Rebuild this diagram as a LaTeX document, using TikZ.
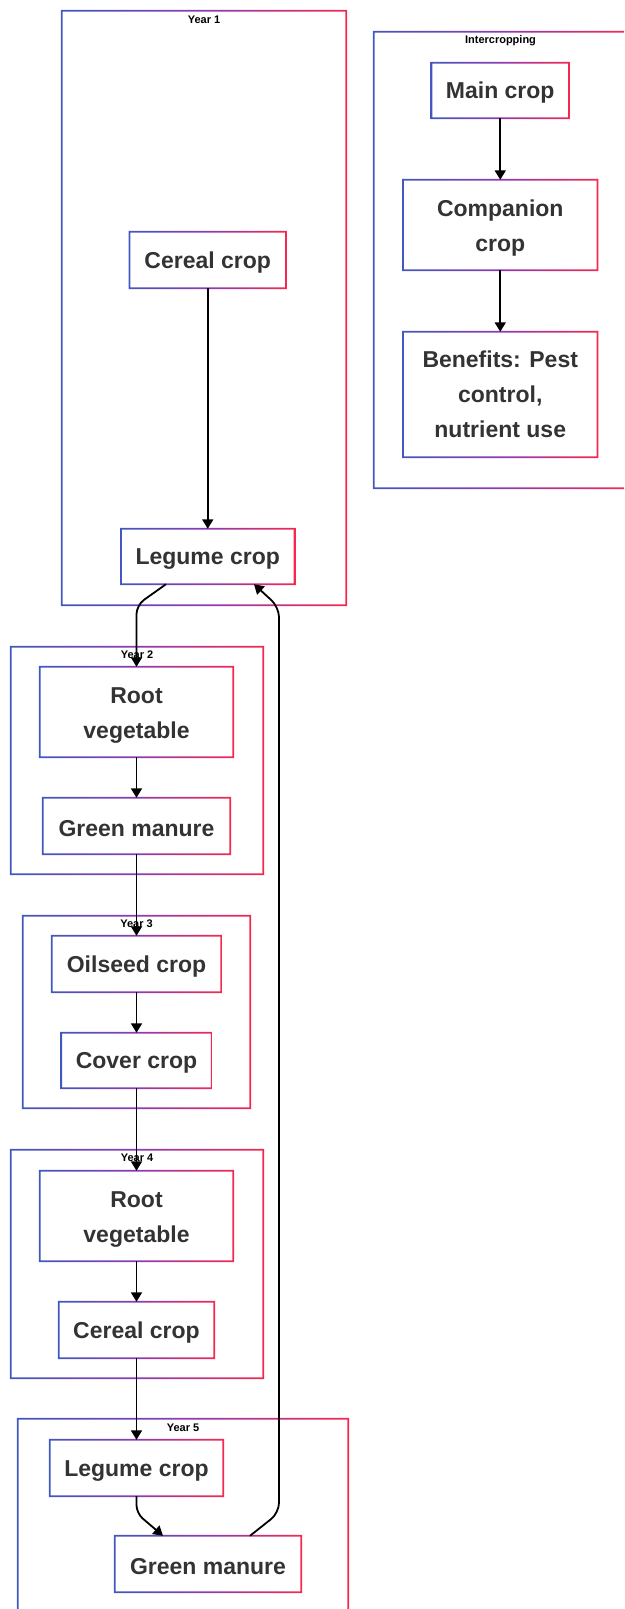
\documentclass[tikz,border=0pt]{standalone}
\usepackage{fontspec}
\setmainfont{Liberation Sans}
\usetikzlibrary{arrows.meta,calc}
\definecolor{cbl}{RGB}{66,88,190}
\definecolor{cmid}{RGB}{140,58,180}
\definecolor{crd}{RGB}{245,40,80}
\definecolor{txt}{RGB}{51,51,51}
\newcommand{\gborder}[1]{%
 \shade[left color=cbl, right color=crd, middle color=cmid, even odd rule]
 ([shift={(-0.85pt,-0.85pt)}]#1.south west) rectangle ([shift={(0.85pt,0.85pt)}]#1.north east)
 ([shift={(0.85pt,0.85pt)}]#1.south west) rectangle ([shift={(-0.85pt,-0.85pt)}]#1.north east);}
\newcommand{\tstrut}{\rule{0pt}{22.5pt}}
\tikzset{
 cbox/.style={inner sep=0pt, align=center, text=txt, font=\fontsize{23}{35}\selectfont\bfseries,
   execute at begin node={\rule{0pt}{21.5pt}}},
 grp/.style={inner sep=0pt},
 ttl/.style={font=\fontsize{11}{13}\selectfont\bfseries, text=black, inner sep=0pt},
 arr/.style={draw=black, line width=1.8pt, -{Triangle[width=11pt,length=9.5pt]}},
}
\begin{document}
\begin{tikzpicture}[x=1pt,y=-1pt]
\useasboundingbox (0,0) rectangle (624,1609);
\clip (0,0) rectangle (624,1609);
% group boxes
\node[grp, minimum width=284pt, minimum height=594pt] (Y1) at (204,308) {};
\node[grp, minimum width=253pt, minimum height=456pt] (IC) at (500.5,260) {};
\node[grp, minimum width=252pt, minimum height=227pt] (Y2) at (137,760.5) {};
\node[grp, minimum width=227pt, minimum height=192pt] (Y3) at (136.5,1012) {};
\node[grp, minimum width=252pt, minimum height=228pt] (Y4) at (137,1264) {};
\node[grp, minimum width=330pt, minimum height=206pt] (Y5) at (183,1522) {};
\foreach \g in {Y1,IC,Y2,Y3,Y4,Y5} {\gborder{\g}}
\node[ttl] (tY1) at ([yshift=-9pt]Y1.north) {Year 1};
\node[ttl] (tIC) at ([yshift=-9pt]IC.north) {Intercropping};
\node[ttl] (tY2) at ([yshift=-8pt]Y2.north) {Year 2};
\node[ttl] (tY3) at ([yshift=-8pt]Y3.north) {Year 3};
\node[ttl] (tY4) at ([yshift=-8pt]Y4.north) {Year 4};
\node[ttl] (tY5) at ([yshift=-9pt]Y5.north) {Year 5};
% crop nodes
\node[cbox, minimum width=156pt, minimum height=56pt] (C1) at (207.75,260) {Cereal crop};
\node[cbox, minimum width=173pt, minimum height=55pt] (L1) at (207.75,556.5) {Legume crop};
\node[cbox, minimum width=137pt, minimum height=55pt] (MC) at (500.25,90.5) {Main crop};
\node[cbox, minimum width=194pt, minimum height=90pt] (CC) at (500.25,225) {\tstrut Companion\\crop};
\node[cbox, minimum width=194pt, minimum height=125pt] (BF) at (500.25,394.5) {Benefits: Pest\\control,\\nutrient use};
\node[cbox, minimum width=193pt, minimum height=90pt] (R2) at (136.5,712) {\tstrut Root\\vegetable};
\node[cbox, minimum width=187pt, minimum height=56pt] (G2) at (136.5,826) {Green manure};
\node[cbox, minimum width=169pt, minimum height=56pt] (O3) at (136.5,964) {Oilseed crop};
\node[cbox, minimum width=150pt, minimum height=55pt] (V3) at (136.5,1060.5) {Cover crop};
\node[cbox, minimum width=193pt, minimum height=90pt] (R4) at (136.5,1216) {\tstrut Root\\vegetable};
\node[cbox, minimum width=155pt, minimum height=56pt] (C4) at (136.5,1330) {Cereal crop};
\node[cbox, minimum width=173pt, minimum height=56pt] (L5) at (136.5,1468) {Legume crop};
\node[cbox, minimum width=186pt, minimum height=56pt] (G5) at (208,1564) {Green manure};
\foreach \n in {C1,L1,MC,CC,BF,R2,G2,O3,V3,R4,C4,L5,G5} {\gborder{\n}}
% connectors
\draw[arr] (C1) -- (L1);
\draw[arr] (MC) -- (CC);
\draw[arr] (CC) -- (BF);
\draw[arr, rounded corners=9pt] ([xshift=-41.75pt]L1.south) -- ([yshift=-21pt]L1.south -| R2.north) -- (R2.north);
\draw[arr] (R2) -- (G2);
\draw[arr] (G2.south) -- (O3.north);
\draw[arr] (O3) -- (V3);
\draw[arr] (V3.south) -- (R4.north);
\draw[arr] (R4) -- (C4);
\draw[arr] (C4.south) -- (L5.north);
\draw[arr, rounded corners=8pt] (L5.south) -- ([yshift=-17pt]L5.south) -- ([xshift=-45pt]G5.north);
\coordinate (up1) at ([xshift=71pt,yshift=23pt]G5.north);
\coordinate (up2) at ([xshift=71.25pt,yshift=-23pt]L1.south);
\draw[arr, rounded corners=10pt] ([xshift=42pt]G5.north) -- (up1) -- (up2) -- ([xshift=46.25pt]L1.south);
\end{tikzpicture}
\end{document}
